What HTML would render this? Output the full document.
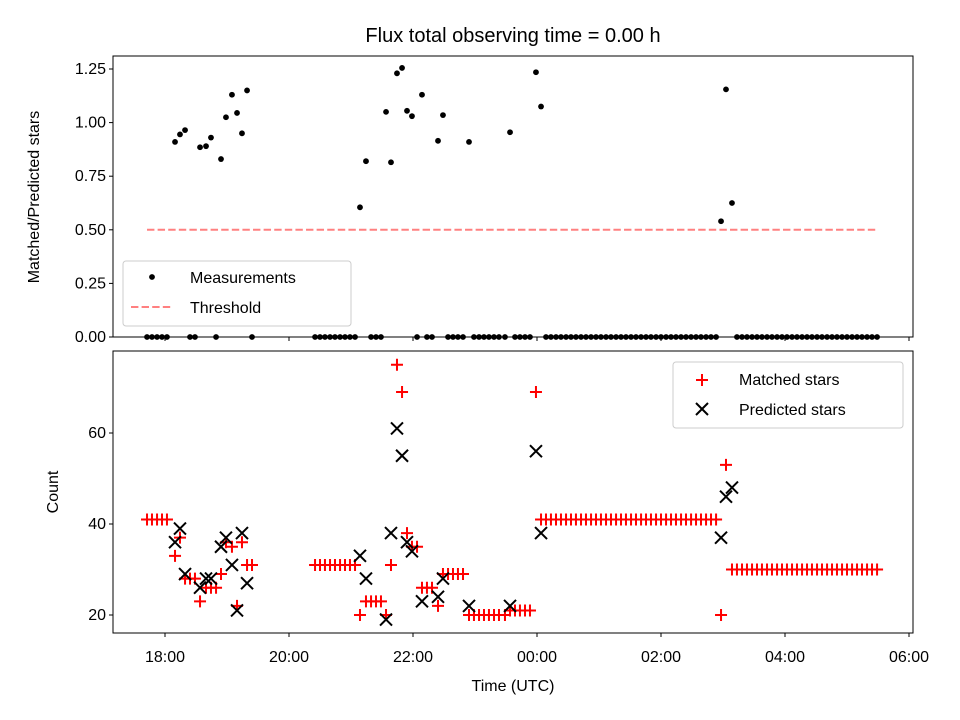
<!DOCTYPE html>
<html><head><meta charset="utf-8"><style>
body{margin:0;background:#fff}
svg{display:block;font-family:"Liberation Sans","DejaVu Sans",sans-serif}
</style></head><body>
<svg id="chart" width="960" height="720" viewBox="0 0 960 720">
<rect width="960" height="720" fill="#fff"/>
<text x="513" y="42" text-anchor="middle" font-size="20">Flux total observing time = 0.00 h</text>
<g id="topPanel"></g>
<g id="botPanel"></g>
</svg>
<script>
// minutes relative to 18:00 UTC
const times=[-17.4,-12.6,-7.7,-2.9,1.9,9.7,14.5,19.4,24.2,29,33.9,39.7,44.5,49.4,54.2,59,64.8,69.7,74.5,79.4,84.2,
145.2,150,154.8,159.7,164.5,169.4,174.2,179,183.9,188.7,194.5,199.4,204.2,209,213.9,218.7,224.5,229.4,234.2,239,243.9,248.7,253.5,258.4,264.2,269,273.9,278.7,283.5,288.4,294.2,299,303.9,308.7,313.5,318.4,323.2,329,333.9,338.7,343.5,348.4,353.2,359,363.9,
368.7,373.5,378.4,383.2,388.1,392.9,397.7,402.6,407.4,412.3,417.1,421.9,426.8,431.6,436.5,441.3,446.1,451.0,455.8,460.7,465.5,470.3,475.2,480.0,484.9,489.7,494.5,499.4,504.2,509.1,513.9,518.7,523.6,528.4,533.3,
538.1,542.9,548.7,
553.5,558.4,563.2,568.1,572.9,577.7,582.6,587.4,592.3,597.1,601.9,606.8,611.6,616.5,621.3,626.1,631.0,635.8,640.7,645.5,650.3,655.2,660.0,664.9,669.7,674.5,679.4,684.2,689.1];
const matched=[41,41,41,41,41,33,37,28,28,28,23,26,26,26,29,36,35,22,36,31,31,
31,31,31,31,31,31,31,31,31,20,23,23,23,23,20,31,75,69,38,35,35,26,26,26,22,29,29,29,29,29,20,20,20,20,20,20,20,20,21,21,21,21,21,69,41,
41,41,41,41,41,41,41,41,41,41,41,41,41,41,41,41,41,41,41,41,41,41,41,41,41,41,41,41,41,41,41,41,41,41,41,
20,53,30,
30,30,30,30,30,30,30,30,30,30,30,30,30,30,30,30,30,30,30,30,30,30,30,30,30,30,30,30,30];
const predicted=[null,null,null,null,null,36,39,29,null,null,26,28,28,null,35,37,31,21,38,27,null,
null,null,null,null,null,null,null,null,null,33,28,null,null,null,19,38,61,55,36,34,null,23,null,null,24,28,null,null,null,null,22,null,null,null,null,null,null,null,22,null,null,null,null,56,38,
null,null,null,null,null,null,null,null,null,null,null,null,null,null,null,null,null,null,null,null,null,null,null,null,null,null,null,null,null,null,null,null,null,null,null,
37,46,48,
null,null,null,null,null,null,null,null,null,null,null,null,null,null,null,null,null,null,null,null,null,null,null,null,null,null,null,null,null];
const ratio=[0,0,0,0,0,0.91,0.945,0.965,0,0,0.885,0.89,0.93,0,0.83,1.025,1.13,1.045,0.95,1.15,0,
0,0,0,0,0,0,0,0,0,0.605,0.82,0,0,0,1.05,0.815,1.23,1.255,1.055,1.03,0,1.13,0,0,0.915,1.035,0,0,0,0,0.91,0,0,0,0,0,0,0,0.955,0,0,0,0,1.235,1.075,
0,0,0,0,0,0,0,0,0,0,0,0,0,0,0,0,0,0,0,0,0,0,0,0,0,0,0,0,0,0,0,0,0,0,0,
0.54,1.155,0.625,
0,0,0,0,0,0,0,0,0,0,0,0,0,0,0,0,0,0,0,0,0,0,0,0,0,0,0,0,0];
const threshold=0.5;
const xTickMin=[0,120,240,360,480,600,720];
const xTickLabels=["18:00","20:00","22:00","00:00","02:00","04:00","06:00"];
const topTicks=[0,0.25,0.5,0.75,1.0,1.25];
const botTicks=[20,40,60];

const NS="http://www.w3.org/2000/svg";
const L=113,R=913;
const X=m=>165+m*62/60;
const YT=v=>337-v*(337-69)/1.25;
const YB=v=>615-(v-20)*(615-433)/40;
function el(t,a,p){const e=document.createElementNS(NS,t);for(const k in a)e.setAttribute(k,a[k]);p.appendChild(e);return e;}
const topG=document.getElementById('topPanel'),botG=document.getElementById('botPanel');

// top panel
const thr=el('line',{x1:X(times[0]),x2:X(times[times.length-1]),y1:YT(threshold),y2:YT(threshold),stroke:'#ff8080','stroke-width':2,'stroke-dasharray':'7.4,3.2'},topG);


times.forEach((t,i)=>{
 if(ratio[i]===undefined||ratio[i]===null)return;
 const c=el('circle',{cx:X(t),cy:YT(ratio[i]),r:2.9,fill:'#000'},topG);
 
 
});
let r=el('rect',{x:L,y:56,width:R-L,height:281,fill:'none',stroke:'#000','stroke-width':1},topG);


topTicks.forEach(v=>{
 el('line',{x1:L-4,x2:L,y1:YT(v),y2:YT(v),stroke:'#000'},topG);
 const tx=el('text',{x:L-7,y:YT(v)+5,'text-anchor':'end','font-size':16},topG);tx.textContent=v.toFixed(2);
 
 
});
xTickMin.forEach(m=>el('line',{x1:X(m),x2:X(m),y1:337,y2:341,stroke:'#000'},topG));
let yl=el('text',{transform:'translate(39,197) rotate(-90)','text-anchor':'middle','font-size':16},topG);yl.textContent='Matched/Predicted stars';


// top legend
let lg=el('g',{},topG);


el('rect',{x:123,y:261,width:228,height:65,rx:3,fill:'#fff','fill-opacity':0.8,stroke:'#ccc'},lg);
el('circle',{cx:152,cy:277,r:2.9,fill:'#000'},lg);
let t1=el('text',{x:190,y:283,'font-size':16},lg);t1.textContent='Measurements';
el('line',{x1:131,x2:172,y1:307,y2:307,stroke:'#ff8080','stroke-width':2,'stroke-dasharray':'7.4,3.2'},lg);
let t2=el('text',{x:190,y:313,'font-size':16},lg);t2.textContent='Threshold';

// bottom panel
times.forEach((t,i)=>{
 if(matched[i]===undefined||matched[i]===null)return;
 const x=X(t),y=YB(matched[i]);
 const p=el('path',{d:`M${x-6},${y}H${x+6}M${x},${y-6}V${y+6}`,stroke:'#ff0000','stroke-width':2},botG);
 
 
});
times.forEach((t,i)=>{
 if(predicted[i]===null||predicted[i]===undefined)return;
 const x=X(t),y=YB(predicted[i]);
 const p=el('path',{d:`M${x-6},${y-6}L${x+6},${y+6}M${x-6},${y+6}L${x+6},${y-6}`,stroke:'#000','stroke-width':2},botG);
 
 
});
r=el('rect',{x:L,y:351,width:R-L,height:282,fill:'none',stroke:'#000','stroke-width':1},botG);


botTicks.forEach(v=>{
 el('line',{x1:L-4,x2:L,y1:YB(v),y2:YB(v),stroke:'#000'},botG);
 const tx=el('text',{x:L-7,y:YB(v)+5,'text-anchor':'end','font-size':16},botG);tx.textContent=v;
 
 
});
xTickMin.forEach((m,i)=>{
 el('line',{x1:X(m),x2:X(m),y1:633,y2:637,stroke:'#000'},botG);
 const tx=el('text',{x:X(m),y:662,'text-anchor':'middle','font-size':16},botG);tx.textContent=xTickLabels[i];
 
 
});
let xl=el('text',{x:513,y:691,'text-anchor':'middle','font-size':16},botG);xl.textContent='Time (UTC)';


let yl2=el('text',{transform:'translate(58,492) rotate(-90)','text-anchor':'middle','font-size':16},botG);yl2.textContent='Count';


let lg2=el('g',{},botG);


el('rect',{x:673,y:362,width:230,height:66,rx:3,fill:'#fff','fill-opacity':0.8,stroke:'#ccc'},lg2);
el('path',{d:'M696,380H708M702,374V386',stroke:'#ff0000','stroke-width':2},lg2);
let t3=el('text',{x:739,y:385,'font-size':16},lg2);t3.textContent='Matched stars';
el('path',{d:'M696,403L708,415M696,415L708,403',stroke:'#000','stroke-width':2},lg2);
let t4=el('text',{x:739,y:415,'font-size':16},lg2);t4.textContent='Predicted stars';
</script>
</body></html>
